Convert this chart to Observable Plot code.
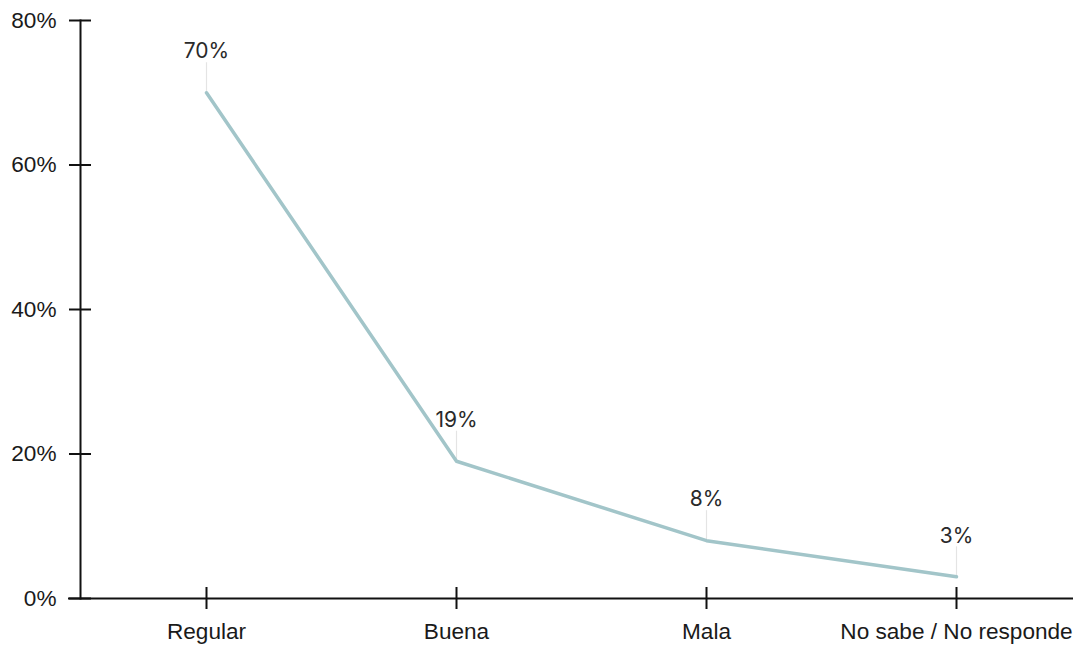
<!DOCTYPE html>
<html>
<head>
<meta charset="utf-8">
<script src="https://cdn.jsdelivr.net/npm/d3@7"></script>
<script src="https://cdn.jsdelivr.net/npm/@observablehq/plot@0.6"></script>
<style>
  html, body { margin: 0; padding: 0; background: #fff; }
</style>
</head>
<body>
<div id="chart"></div>
<script>
const categories = ["Regular", "Buena", "Mala", "No sabe / No responde"];
const values = [70, 19, 8, 3];
const yTicks = [0, 20, 40, 60, 80];

const data = categories.map((c, i) => ({category: c, value: values[i]}));

const chart = Plot.plot({
  width: 1073,
  height: 645,
  marginTop: 20,
  marginBottom: 47,
  marginLeft: 80,
  marginRight: 0,
  style: {fontFamily: "'Liberation Sans', Arial, sans-serif", fontSize: "22.6px", color: "#222", background: "#fff"},
  x: {type: "point", domain: categories, range: [205, 956], padding: 0},
  y: {domain: [0, 80]},
  marks: [
    Plot.frame({anchor: "left", stroke: "#111", strokeWidth: 2}),
    Plot.ruleY([0], {stroke: "#111", strokeWidth: 2, insetLeft: -12}),
    Plot.axisY({ticks: yTicks, tickFormat: d => d + "%", tickSize: 22, dx: 11, tickPadding: 13, stroke: "#111", strokeWidth: 2, fill: "#1a1a1a", fontSize: 22.6, label: null}),
    Plot.axisX({tickSize: 22, dy: -11, tickPadding: 13, stroke: "#111", strokeWidth: 2, fill: "#1a1a1a", fontSize: 22.6, label: null}),
    Plot.ruleX(data, {x: "category", y1: "value", y2: "value", insetTop: -30, stroke: "#e4e4e4", strokeWidth: 1.2}),
    Plot.line(data, {x: "category", y: "value", stroke: "#a2c5c9", strokeWidth: 3.5}),
    Plot.text(data, {x: "category", y: "value", text: d => d.value + "%", dy: -41, fill: "#2a2a2a", fontSize: 21, fontFamily: "Inter, 'Open Sans', sans-serif"})
  ]
});
document.getElementById("chart").appendChild(chart);
</script>
</body>
</html>
